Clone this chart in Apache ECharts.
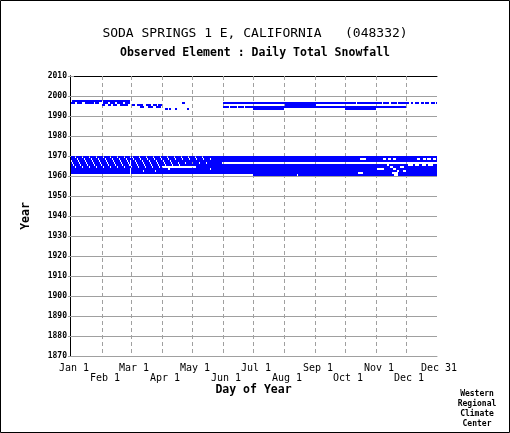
<!DOCTYPE html>
<html>
<head>
  <meta charset="utf-8">
  <title>SODA SPRINGS 1 E - daily snowfall record</title>
  <script src="https://cdn.jsdelivr.net/npm/echarts@6/dist/echarts.min.js"></script>
  <style>
    html, body { margin: 0; padding: 0; background: #fff; }
    #main { width: 510px; height: 433px; }
  </style>
</head>
<body>
  <div id="main"></div>
  <script type="text/javascript">
    // day index in a 366 day year (Feb 29 = day 60, so non leap years skip 60)
    var labelDaysA = [1, 61, 122, 183, 245, 306, 366];
    var labelNamesA = ['Jan 1', 'Mar 1', 'May 1', 'Jul 1', 'Sep 1', 'Nov 1', 'Dec 31'];
    var labelDaysB = [32, 92, 153, 214, 275, 336];
    var labelNamesB = ['Feb 1', 'Apr 1', 'Jun 1', 'Aug 1', 'Oct 1', 'Dec 1'];
    var monthLines = [32, 61, 92, 122, 153, 183, 214, 245, 275, 306, 336];

    // 1990s: days with data, given as runs [first, last]
    var recentYears = [1997, 1996, 1995, 1994, 1993];
    var recentRuns = [
      [[2, 31], [33, 59]],
      [[1, 4], [7, 11], [15, 23], [25, 28], [33, 37], [40, 44], [47, 52], [55, 59], [112, 114],
       [153, 285], [287, 311], [313, 318], [321, 326], [328, 335], [336, 338], [341, 342],
       [345, 348], [351, 353], [355, 358], [361, 364], [366, 366]],
      [[32, 34], [38, 40], [43, 46], [50, 57], [62, 64], [67, 72], [76, 80], [83, 86], [88, 91], [215, 245]],
      [[70, 73], [78, 82], [86, 90], [153, 158], [160, 166], [168, 173], [175, 335]],
      [[95, 97], [99, 100], [105, 106], [117, 118], [183, 213], [275, 305]]
    ];

    // 1960s: nearly complete, so given as a span and the missing days in it
    var blockYears = [1969, 1968, 1967, 1966, 1965, 1964, 1963, 1962, 1961, 1960];
    var blockSpans = [[1, 366], [1, 366], [1, 366], [1, 151], [1, 366], [1, 366], [1, 366], [1, 366], [1, 366], [183, 366]];
    var blockGaps = [
      [5, 12, 19, 26, 33, 40, 47, 54, 60, 62, 69, 76, 83, 90, 97, 104, 111, 118, 125, 132],
      [7, 14, 21, 28, 35, 42, 49, 56, 63, 70, 77, 84, 91, 98, 105, 112, 119, 126, 133, 140,
       [290, 295], [313, 315], [318, 320], [323, 325], [347, 349], [353, 355], [357, 360], [363, 365]],
      [1, 8, 15, 22, 29, 36, 43, 50, 57, 60, 65, 72, 79, 86, 93, 100],
      [2, 9, 16, 23, 30, 37, 44, 51, 58, 60, 66, 73, 80, 87, 94, 101, 108, 115, 122, 129, 136],
      [3, 10, 17, 24, 31, 38, 45, 52, 59, 60, 67, 74, 81, 88, 95, 102, 109,
       [317, 318], [338, 342], [345, 348], [352, 355], [358, 362]],
      [5, 12, 19, 26, 33, 40, 47, 54, 61, 68, 75, 82, 89, [92, 125], [320, 322], [330, 333]],
      [60, [98, 99], 140, [307, 313], [323, 325]],
      [60, 73, 85, [327, 328], [333, 335]],
      [60, [288, 292], [322, 327]],
      [227, [324, 327]]
    ];

    var yearMin = 1870, yearMax = 2010;

    function spanMinusGaps(span, gaps) {
      var missing = {};
      gaps.forEach(function (g) {
        var a = Array.isArray(g) ? g[0] : g, b = Array.isArray(g) ? g[1] : g;
        for (var d = a; d <= b; d++) missing[d] = true;
      });
      var runs = [], start = null;
      for (var d = span[0]; d <= span[1]; d++) {
        if (!missing[d]) { if (start === null) start = d; }
        else if (start !== null) { runs.push([start, d - 1]); start = null; }
      }
      if (start !== null) runs.push([start, span[1]]);
      return runs;
    }

    var runData = [];
    recentYears.forEach(function (y, i) {
      recentRuns[i].forEach(function (r) { runData.push([r[0], r[1], y]); });
    });
    blockYears.forEach(function (y, i) {
      spanMinusGaps(blockSpans[i], blockGaps[i]).forEach(function (r) { runData.push([r[0], r[1], y]); });
    });

    var mono = 'DejaVu Sans Mono';
    var grey = '#a0a0a0';
    var myChart = echarts.init(document.getElementById('main'), null, { renderer: 'canvas' });

    function labelAxis(days, names, offset) {
      return {
        type: 'value', min: 0, max: 367, position: 'bottom', offset: offset,
        axisLine: { show: offset === 0, lineStyle: { color: grey } },
        axisTick: { show: false },
        splitLine: { show: false },
        axisLabel: {
          customValues: days, showMinLabel: true, showMaxLabel: true, margin: 7,
          formatter: function (v) { return '{t|' + names[days.indexOf(v)] + '}'; },
          rich: { t: { fontFamily: mono, fontSize: 10, color: '#000', padding: [0, 0, 0, 6] } }
        }
      };
    }

    var axisA = labelAxis(labelDaysA, labelNamesA, 0);
    axisA.name = 'Day of Year';
    axisA.nameLocation = 'middle';
    axisA.nameGap = 28;
    axisA.nameTextStyle = { fontFamily: mono, fontSize: 11.5, fontWeight: 'bold', color: '#000' };

    var option = {
      animation: false,
      backgroundColor: '#fff',
      title: {
        text: 'SODA SPRINGS 1 E, CALIFORNIA   (048332)',
        subtext: 'Observed Element : Daily Total Snowfall',
        left: 'center', top: 22, itemGap: 7,
        textStyle: { fontFamily: mono, fontSize: 13, fontWeight: 'normal', color: '#000' },
        subtextStyle: { fontFamily: mono, fontSize: 11.5, fontWeight: 'bold', color: '#000' }
      },
      grid: { left: 70, right: 73, top: 76, bottom: 77 },
      xAxis: [
        axisA,
        labelAxis(labelDaysB, labelNamesB, 10),
        {
          type: 'value', min: 0, max: 367, position: 'top',
          axisLine: { lineStyle: { color: '#000' } },
          axisTick: { show: false }, axisLabel: { show: false }, splitLine: { show: false }
        }
      ],
      yAxis: [
        {
          type: 'value', min: yearMin, max: yearMax, interval: 10, position: 'left',
          name: 'Year', nameLocation: 'middle', nameGap: 38,
          nameTextStyle: { fontFamily: mono, fontSize: 11.5, fontWeight: 'bold', color: '#000' },
          axisLine: { show: true, lineStyle: { color: '#000' } },
          axisTick: { show: true, length: 2, lineStyle: { color: grey } },
          axisLabel: {
            fontFamily: mono, fontSize: 8, fontWeight: 'bold', color: '#000', margin: 3,
            formatter: function (v) { return String(v); }
          },
          splitLine: { show: true, lineStyle: { color: grey, width: 1 } }
        },
        {
          type: 'value', min: yearMin, max: yearMax, interval: 10, position: 'right',
          axisLine: { show: true, lineStyle: { color: '#000' } },
          axisTick: { show: true, length: 4, lineStyle: { color: grey } },
          axisLabel: { show: false }, splitLine: { show: false }
        }
      ],
      series: [
        {
          type: 'custom', name: 'months', silent: true, z: 1,
          xAxisIndex: 0, yAxisIndex: 0,
          data: monthLines.map(function (d) { return [d]; }),
          renderItem: function (params, api) {
            var top = api.coord([api.value(0), yearMax]);
            var bot = api.coord([api.value(0), yearMin]);
            var x = Math.round(top[0]) + 0.5;
            return {
              type: 'line',
              shape: { x1: x, y1: top[1], x2: x, y2: bot[1] },
              style: { stroke: grey, lineWidth: 1, lineDash: [4, 3] }
            };
          }
        },
        {
          type: 'custom', name: 'snowfall days', silent: true, z: 2,
          xAxisIndex: 0, yAxisIndex: 0,
          encode: { x: [0, 1], y: 2 },
          data: runData,
          renderItem: function (params, api) {
            var a = api.coord([api.value(0), api.value(2) + 1]);
            var b = api.coord([api.value(1) + 1, api.value(2)]);
            return {
              type: 'rect',
              shape: { x: a[0], y: a[1], width: b[0] - a[0], height: b[1] - a[1] },
              style: { fill: '#0000ff' }
            };
          }
        }
      ],
      graphic: [
        {
          type: 'rect', silent: true, z: 100,
          shape: { x: 0.5, y: 0.5, width: 509, height: 432 },
          style: { fill: null, stroke: '#000', lineWidth: 1 }
        },
        {
          type: 'text', x: 477, y: 389, silent: true,
          style: {
            text: 'Western\nRegional\nClimate\nCenter',
            font: 'bold 8px "DejaVu Sans Mono"', fill: '#000',
            align: 'center', verticalAlign: 'top', lineHeight: 10
          }
        }
      ]
    };

    myChart.setOption(option);
  </script>
</body>
</html>
